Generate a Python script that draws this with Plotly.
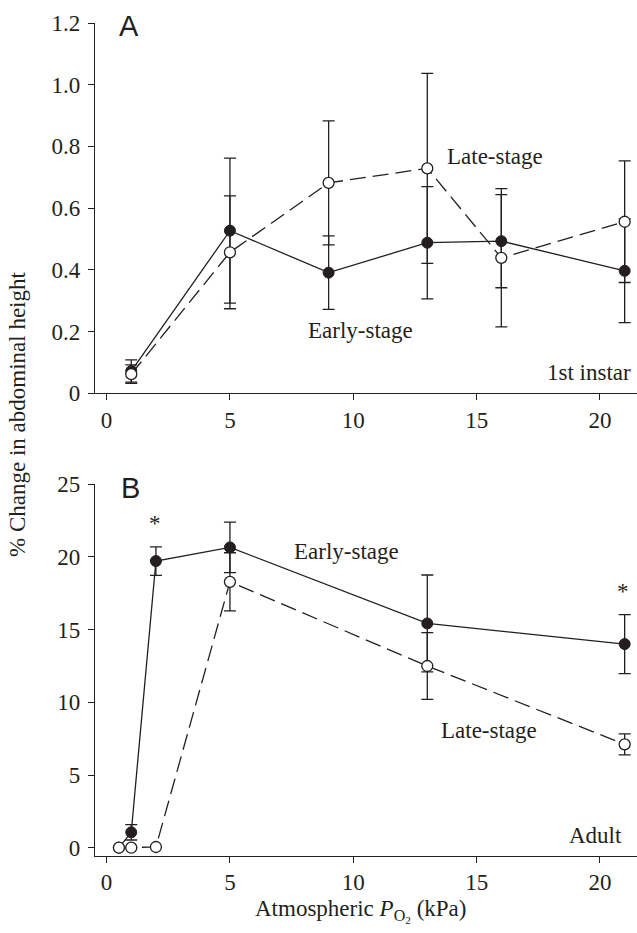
import plotly.graph_objects as go

# ---------------- data ----------------
# Panel A (1st instar)
a_x = [1, 5, 9, 13, 16, 21]
a_early = [0.072, 0.527, 0.391, 0.488, 0.493, 0.397]
a_early_err = [0.036, 0.235, 0.119, 0.182, 0.151, 0.168]
a_late = [0.062, 0.457, 0.682, 0.729, 0.439, 0.556]
a_late_err = [0.030, 0.183, 0.201, 0.308, 0.224, 0.197]

# Panel B (Adult)
b_x = [0.5, 1, 2, 5, 13, 21]
b_early = [0.0, 1.06, 19.72, 20.66, 15.43, 14.01]
b_early_err = [None, 0.53, 0.98, 1.74, 3.33, 2.03]
b_late = [0.0, 0.0, 0.05, 18.29, 12.50, 7.11]
b_late_err = [None, None, None, 2.00, 2.30, 0.72]

x_ticks = [0, 5, 10, 15, 20]
a_ticks = [0, 0.2, 0.4, 0.6, 0.8, 1.0, 1.2]
a_ticktext = ["0", "0.2", "0.4", "0.6", "0.8", "1.0", "1.2"]
b_ticks = [0, 5, 10, 15, 20, 25]

INK = "#231f20"
SERIF = "Liberation Serif, Times New Roman, serif"
SANS = "Liberation Sans, Arial, sans-serif"
FS = 23
W, H = 637, 933


def err(arr):
    return dict(type="data", array=arr, visible=True, color=INK,
                thickness=1.3, width=6)


fig = go.Figure()


def add_pair(x, early, early_err, late, late_err, xa, ya):
    fig.add_trace(go.Scatter(
        x=x, y=early, xaxis=xa, yaxis=ya, mode="lines+markers",
        line=dict(color=INK, width=1.3),
        marker=dict(symbol="circle", size=11, color=INK,
                    line=dict(color=INK, width=1)),
        error_y=err(early_err), cliponaxis=False, showlegend=False))
    fig.add_trace(go.Scatter(
        x=x, y=late, xaxis=xa, yaxis=ya, mode="lines+markers",
        line=dict(color=INK, width=1.3, dash="16px,7px"),
        marker=dict(symbol="circle", size=11, color="white",
                    line=dict(color=INK, width=1.3)),
        error_y=err(late_err), cliponaxis=False, showlegend=False))


add_pair(a_x, a_early, a_early_err, a_late, a_late_err, "x", "y")
add_pair(b_x, b_early, b_early_err, b_late, b_late_err, "x2", "y2")

xdom = [95 / W, 1.0]
axis_common = dict(showline=True, linecolor=INK, linewidth=1.3,
                   ticks="outside", ticklen=6, tickwidth=1.3, tickcolor=INK,
                   showgrid=False, zeroline=False, automargin=False,
                   tickfont=dict(family=SERIF, size=FS, color=INK))

fig.update_layout(
    width=W, height=H,
    margin=dict(l=0, r=0, t=0, b=0, pad=0, autoexpand=False),
    paper_bgcolor="white", plot_bgcolor="white",
    xaxis=dict(domain=xdom, range=[-0.47, 21.5], anchor="y",
               tickvals=x_ticks, **axis_common),
    yaxis=dict(domain=[(H - 393.3) / H, (H - 23) / H], range=[0, 1.2],
               anchor="x", tickvals=a_ticks, ticktext=a_ticktext,
               ticklabelstandoff=3, **axis_common),
    xaxis2=dict(domain=xdom, range=[-0.47, 21.5], anchor="y2",
                tickvals=x_ticks, **axis_common),
    yaxis2=dict(domain=[(H - 855.7) / H, (H - 484.3) / H],
                range=[-0.55, 25], anchor="x2", tickvals=b_ticks,
                ticklabelstandoff=3, **axis_common),
)

ann = []


def txt(x, y, s, xref, yref, font=SERIF, size=FS, xanchor="center"):
    ann.append(dict(x=x, y=y, xref=xref, yref=yref, text=s, showarrow=False,
                    xanchor=xanchor, yanchor="middle",
                    font=dict(family=font, size=size, color=INK)))


# Panel A labels
txt(0.92, 1.19, "A", "x", "y", font=SANS, size=29)
txt(15.76, 0.766, "Late-stage", "x", "y")
txt(10.30, 0.202, "Early-stage", "x", "y")
txt(21.32, 0.069, "1st instar", "x", "y", xanchor="right")

# Panel B labels
txt(0.95, 24.77, "B", "x2", "y2", font=SANS, size=29)
txt(1.96, 22.3, "*", "x2", "y2")
txt(20.92, 17.6, "*", "x2", "y2")
txt(9.72, 20.36, "Early-stage", "x2", "y2")
txt(15.5, 8.03, "Late-stage", "x2", "y2")
txt(20.98, 0.87, "Adult", "x2", "y2", xanchor="right")

# axis titles
ann.append(dict(x=18 / W, y=(H - 415) / H, xref="paper", yref="paper",
                text="% Change in abdominal height", textangle=-90,
                showarrow=False, xanchor="center", yanchor="middle",
                font=dict(family=SERIF, size=FS, color=INK)))
ann.append(dict(x=360 / W, y=(H - 911) / H, xref="paper", yref="paper",
                text="Atmospheric <i>P</i><sub>O<sub>2</sub></sub> (kPa)",
                showarrow=False, xanchor="center", yanchor="middle",
                font=dict(family=SERIF, size=FS, color=INK)))

fig.update_layout(annotations=ann)
fig.write_html("out.html")
